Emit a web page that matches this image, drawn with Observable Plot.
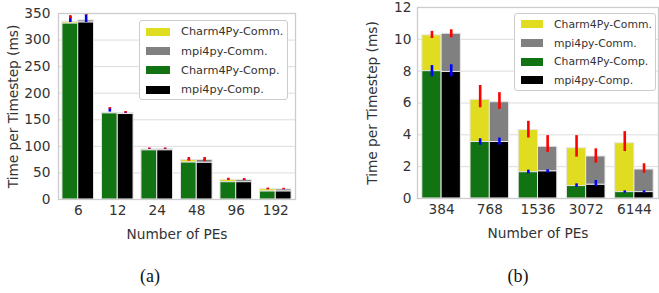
<!DOCTYPE html>
<html><head><meta charset="utf-8">
<script src="https://cdn.jsdelivr.net/npm/d3@7"></script>
<script src="https://cdn.jsdelivr.net/npm/@observablehq/plot@0.6"></script>
<style>
body{margin:0;background:#fff;width:659px;height:293px;overflow:hidden;position:relative;font-family:"DejaVu Sans";}
.pane{position:absolute;top:0;}
.leg{position:absolute;border:1px solid #cccccc;border-radius:3px;background:#fff;box-sizing:border-box;}
.cap{position:absolute;font-family:"Liberation Serif";font-size:18px;transform:translate(-50%,-50%);color:#111;white-space:nowrap;}
</style></head><body>
<div id="a" class="pane" style="left:0"></div>
<div id="b" class="pane" style="left:330px"></div>
<div class="cap" style="left:150px;top:276px">(a)</div>
<div class="cap" style="left:518px;top:276px">(b)</div>
<script>
// ---- shared legend / series ----
const seriesNames = ["Charm4Py-Comm.", "mpi4py-Comm.", "Charm4Py-Comp.", "mpi4py-Comp."];
const seriesColors = ["#e0dc20", "#808080", "#127312", "#000000"];

// ---- panel (a) ----
const pesA = ["6", "12", "24", "48", "96", "192"];
const yTicksA = [0, 50, 100, 150, 200, 250, 300, 350];
const charmCompA = [331, 162, 92.5, 69.5, 32.5, 15];
const charmTotalA = [334.5, 163.5, 94.5, 74.5, 37, 19.5];
const mpiCompA = [333, 160.8, 92.5, 69, 32.5, 15];
const mpiTotalA = [337, 162.5, 94.5, 74.5, 36.5, 19];
const charmCompErrLoA = [333, 164.5, 94.5, 73.5, 36.5, 18.5];
const charmCompErrHiA = [344, 171, 96, 75.5, 37.5, 19.5];
const charmCommErrLoA = [340, 170, 95, 72, 36, 18.5];
const charmCommErrHiA = [346, 173, 97, 79, 40, 21.5];
const mpiCompErrLoA = [333, 162, 94.5, 73.5, 36, 18.5];
const mpiCompErrHiA = [348, 164.5, 96, 75.5, 37.5, 19.5];
const mpiCommErrLoA = [346.5, 162.5, 95, 71, 36, 18.5];
const mpiCommErrHiA = [350, 165.5, 97, 79, 39.5, 21];

// ---- panel (b) ----
const pesB = ["384", "768", "1536", "3072", "6144"];
const yTicksB = [0, 2, 4, 6, 8, 10, 12];
const charmCompB = [8.0, 3.55, 1.65, 0.78, 0.4];
const charmTotalB = [10.25, 6.2, 4.3, 3.16, 3.47];
const mpiCompB = [7.95, 3.55, 1.7, 0.86, 0.4];
const mpiTotalB = [10.35, 6.05, 3.25, 2.64, 1.82];
const charmCompErrLoB = [7.65, 3.35, 1.55, 0.7, 0.33];
const charmCompErrHiB = [8.35, 3.75, 1.78, 0.92, 0.48];
const charmCommErrLoB = [10.05, 5.7, 3.8, 2.6, 2.95];
const charmCommErrHiB = [10.5, 7.1, 4.85, 3.95, 4.2];
const mpiCompErrLoB = [7.65, 3.35, 1.6, 0.75, 0.33];
const mpiCompErrHiB = [8.4, 3.8, 1.8, 1.13, 0.48];
const mpiCommErrLoB = [10.1, 5.6, 2.9, 2.22, 1.59];
const mpiCommErrHiB = [10.6, 6.65, 3.95, 3.12, 2.18];

function buildRows(pes, cC, cT, mC, mT, cCL, cCH, cML, cMH, mCL, mCH, mML, mMH) {
  const rows = [];
  pes.forEach((pe, i) => {
    rows.push({i, x1: i - 0.4, x2: i, comp: cC[i], tot: cT[i], compLo: cCL[i], compHi: cCH[i], commLo: cML[i], commHi: cMH[i], commName: seriesNames[0], compName: seriesNames[2]});
    rows.push({i, x1: i, x2: i + 0.4, comp: mC[i], tot: mT[i], compLo: mCL[i], compHi: mCH[i], commLo: mML[i], commHi: mMH[i], commName: seriesNames[1], compName: seriesNames[3]});
  });
  return rows;
}

function panel(rows, pes, yTicks, o) {
  const n = pes.length;
  return Plot.plot({
    width: o.width, height: 240,
    marginLeft: o.ml, marginRight: o.mr, marginTop: o.mt, marginBottom: 240 - o.bottom,
    style: {fontFamily: "DejaVu Sans", fontSize: "13.7px", color: "#333", background: "transparent", overflow: "visible"},
    x: {domain: [-0.5, n - 0.5], ticks: d3.range(n), tickFormat: i => pes[i], tickSize: 0, tickPadding: 6,
        label: "Number of PEs", labelAnchor: "center", labelOffset: 39, labelArrow: "none"},
    y: {domain: [0, yTicks[yTicks.length - 1]], ticks: yTicks, tickSize: 0, tickPadding: o.ytp,
        label: "Time per Timestep (ms)", labelAnchor: "center", labelOffset: o.ylo, labelArrow: "none"},
    color: {domain: seriesNames, range: seriesColors},
    marks: [
      Plot.ruleY(yTicks, {stroke: "#dcdcdc", strokeWidth: 1}),
      Plot.rectY(rows, {x1: "x1", x2: "x2", y1: "comp", y2: "tot", fill: "commName", stroke: "#e6e6e6", strokeWidth: 1}),
      Plot.rectY(rows, {x1: "x1", x2: "x2", y1: d => 0, y2: "comp", fill: "compName", stroke: "#e6e6e6", strokeWidth: 1}),
      Plot.ruleX(rows, {x: d => (d.x1 + d.x2) / 2, y1: "compLo", y2: "compHi", stroke: "#0000ff", strokeWidth: 2.6}),
      Plot.ruleX(rows, {x: d => (d.x1 + d.x2) / 2, y1: "commLo", y2: "commHi", stroke: "#ff0000", strokeWidth: 2.6}),
      Plot.frame({stroke: "#cccccc", strokeWidth: 1.3})
    ]
  });
}

function legend(parent, left, top, w, h, rowH, fs, swW, padL, padT) {
  const box = document.createElement("div");
  box.className = "leg";
  Object.assign(box.style, {left: left + "px", top: top + "px", width: w + "px", height: h + "px", padding: padT + "px 0 0 " + padL + "px"});
  const lg = Plot.legend({
    color: {domain: seriesNames, range: seriesColors},
    legend: "swatches", columns: 1, swatchWidth: swW, swatchHeight: 8,
    style: {fontFamily: "DejaVu Sans", fontSize: fs + "px", color: "#333", margin: "0"}
  });
  Array.from(lg.children).filter(c => c.tagName === "DIV").forEach(d => {
    d.style.height = rowH + "px";
    d.style.paddingBottom = "0";
    d.style.display = "flex";
    d.style.alignItems = "center";
    const s = d.querySelector("svg");
    if (s) s.style.marginRight = "11px";
  });
  box.appendChild(lg);
  parent.appendChild(box);
}

const rowsA = buildRows(pesA, charmCompA, charmTotalA, mpiCompA, mpiTotalA,
  charmCompErrLoA, charmCompErrHiA, charmCommErrLoA, charmCommErrHiA,
  mpiCompErrLoA, mpiCompErrHiA, mpiCommErrLoA, mpiCommErrHiA);
const rowsB = buildRows(pesB, charmCompB, charmTotalB, mpiCompB, mpiTotalB,
  charmCompErrLoB, charmCompErrHiB, charmCommErrLoB, charmCommErrHiB,
  mpiCompErrLoB, mpiCompErrHiB, mpiCommErrLoB, mpiCommErrHiB);

document.getElementById("a").appendChild(panel(rowsA, pesA, yTicksA, {width: 330, ml: 58, mr: 35, mt: 13, bottom: 199, ytp: 8, ylo: 50}));
document.getElementById("b").appendChild(panel(rowsB, pesB, yTicksB, {width: 329, ml: 87, mr: 1, mt: 7, bottom: 198, ytp: 6, ylo: 50}));

legend(document.body, 139, 20, 149, 80, 19.4, 11.3, 24, 6, 1);
legend(document.body, 514, 13, 142, 78, 18.7, 10.8, 22, 6, 1);
</script>
</body></html>
